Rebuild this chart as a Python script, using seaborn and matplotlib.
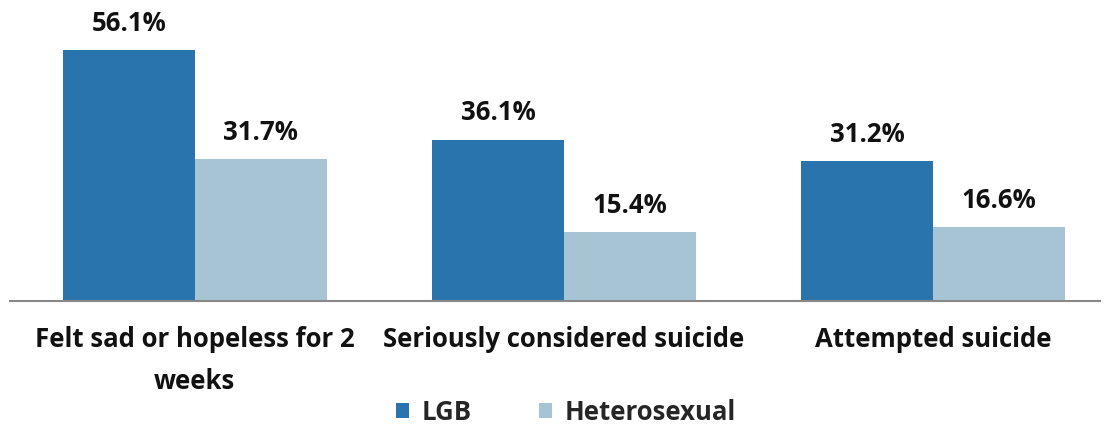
import matplotlib
matplotlib.use("Agg")
import matplotlib.pyplot as plt
import seaborn as sns
import pandas as pd
import textwrap
from matplotlib.patches import Patch

categories = ["Felt sad or hopeless for 2 weeks", "Seriously considered suicide", "Attempted suicide"]
series_names = ["LGB", "Heterosexual"]
lgb_values = [56.1, 36.1, 31.2]
het_values = [31.7, 15.4, 16.6]
colors = ["#2A74AD", "#A7C4D5"]

sns.set_theme(style="white")
plt.rcParams['font.family'] = ['Open Sans', 'DejaVu Sans']
W = 'bold'

df = pd.DataFrame({
    "category": categories * 2,
    "group": [series_names[0]] * 3 + [series_names[1]] * 3,
    "value": lgb_values + het_values,
})

fig = plt.figure(figsize=(11.1, 4.28), dpi=100)
ax = fig.add_axes([10 / 1110, (428 - 301) / 428, 1090 / 1110, 301 / 428])

sns.barplot(data=df, x="category", y="value", hue="group", order=categories,
            hue_order=series_names, palette=colors, width=0.715, gap=0,
            saturation=1, ax=ax, legend=False, linewidth=0)

for cont in ax.containers:
    ax.bar_label(cont, fmt="%.1f%%", padding=9.5, fontsize=18.5, fontweight=W, color="#111111")

ax.set_xlim(-0.501, 2.453)
ax.set_ylim(0, 67.3)
ax.set_yticks([])
ax.set_xlabel("")
ax.set_ylabel("")
ax.set_xticks(range(len(categories)))
ax.set_xticklabels([textwrap.fill(c, 28) for c in categories], fontsize=18.5,
                   fontweight=W, color="#111111", linespacing=1.7)
ax.tick_params(axis='x', length=0, pad=18)
for s in ["top", "left", "right"]:
    ax.spines[s].set_visible(False)
ax.spines["bottom"].set_color("#888888")
ax.spines["bottom"].set_linewidth(1.5)

handles = [Patch(facecolor=c, edgecolor='none', label=n) for c, n in zip(colors, series_names)]
fig.legend(handles=handles, loc="center", bbox_to_anchor=(566 / 1110, 1 - 412 / 428),
           ncol=2, frameon=False, handlelength=0.5, handleheight=0.5,
           handletextpad=0.5, columnspacing=2.6, borderpad=0.2,
           prop={'weight': W, 'size': 18.5})

fig.savefig("out.png", dpi=100)
